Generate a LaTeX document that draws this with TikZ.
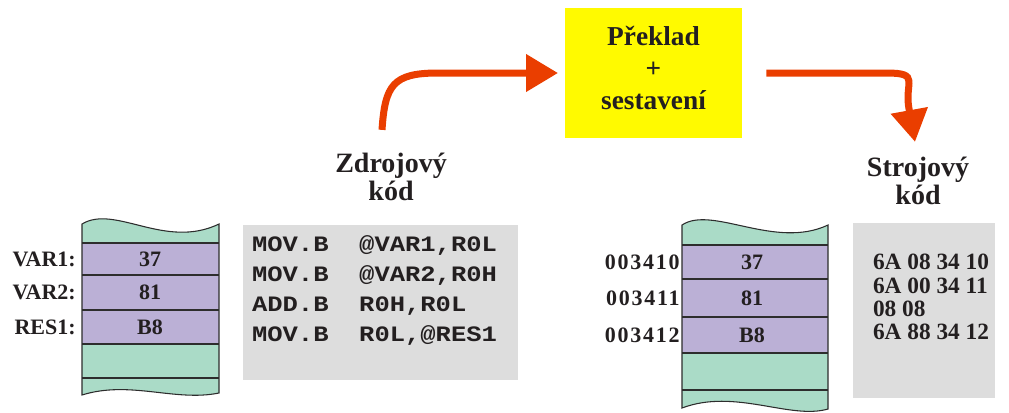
\documentclass[tikz,border=0pt]{standalone}
\usepackage{fontspec}
\setmainfont{Liberation Serif}
\newfontfamily\codefont{Liberation Mono}[FakeStretch=1.16]
\usetikzlibrary{arrows.meta}

\definecolor{mint}{RGB}{170,219,199}
\definecolor{lilac}{RGB}{187,176,214}
\definecolor{panelgray}{RGB}{221,221,221}
\definecolor{boxyellow}{RGB}{255,250,0}
\definecolor{flowred}{RGB}{234,62,0}
\definecolor{ink}{RGB}{35,31,32}
\definecolor{edge}{RGB}{45,45,45}

\begin{document}
\begin{tikzpicture}[x=0.75pt,y=-0.75pt,
  every node/.style={text=ink, inner sep=0pt},
  flow/.style={draw=flowred, line width=5.25pt, -{Triangle[length=24pt,width=27pt]}},
  rule/.style={draw=edge, line width=0.8pt},
  cell/.style={font=\fontsize{16.5}{18}\selectfont\bfseries},
  addr/.style={cell, anchor=east},
  caption/.style={font=\fontsize{21}{21.3}\selectfont\bfseries, anchor=base},
  stagebox/.style={fill=boxyellow, minimum width=132.75pt, minimum height=97.5pt,
    font=\fontsize{20.5}{24}\selectfont\bfseries}]

\useasboundingbox (0,0) rectangle (1009,412);

% ---- translation stage ----
\node[stagebox] (P) at (653.5,73)
  {\raisebox{21pt}[0pt][0pt]{\begin{tabular}[t]{@{}c@{}}Překlad\\+\\sestavení\end{tabular}}};

% ---- captions ----
\node[caption] (Zdr) at (391,172) {\begin{tabular}[t]{@{}c@{}}Zdrojový\\kód\end{tabular}};
\node[caption] (Str) at (918,176) {\begin{tabular}[t]{@{}c@{}}Strojový\\kód\end{tabular}};

% ---- flow arrows ----
\draw[flow] ([shift={(-9,-22)}]Zdr.north) .. controls +(3,-45) and +(-45,0) .. ([xshift=-95]P.west) -- ([xshift=-5]P.west);
\draw[flow] ([xshift=18]P.east) -- ([xshift=108]P.east)
  .. controls +(35,0) and +(-5,-27) .. ([shift={(-9,-47)}]Str.north)
  -- ([shift={(-3,-14)}]Str.north);

% ---- memory with symbolic names ----
\fill[mint] (82,224) .. controls (115,204) and (165,250) .. (219,224) -- (219,393)
  .. controls (175,402) and (130,380) .. (82,395) -- cycle;
\fill[lilac] (82,243) rectangle (219,344);
\foreach \yy in {243,275,310,344,378} \draw[rule] (82,\yy) -- (219,\yy);
\draw[rule] (82,224) .. controls (115,204) and (165,250) .. (219,224) -- (219,393)
  .. controls (175,402) and (130,380) .. (82,395) -- cycle;

\node[cell] (m1) at (150,259) {37};
\node[cell] (m2) at (150,292.5) {81};
\node[cell] (m3) at (150,327) {B8};
\node[addr] (a1) at (76,259) {VAR1:};
\node[addr] (a2) at (76,292.5) {VAR2:};
\node[addr] (a3) at (76,327) {RES1:};

% ---- assembly source ----
\node[fill=panelgray, minimum width=206.25pt, minimum height=116.25pt] (src) at (380.5,302.5) {};
\node[anchor=base west, font=\fontsize{16.5}{22.5}\selectfont\codefont\bfseries] (code)
  at ([shift={(9,27)}]src.north west)
  {\begin{tabular}[t]{@{}l@{}}MOV.B~~@VAR1,R0L\\MOV.B~~@VAR2,R0H\\ADD.B~~R0H,R0L\\MOV.B~~R0L,@RES1\end{tabular}};

% ---- memory with addresses ----
\fill[mint] (682,225) .. controls (712,205) and (775,250) .. (828,225) -- (828,409)
  .. controls (790,420) and (735,388) .. (682,408) -- cycle;
\fill[lilac] (682,245) rectangle (828,353);
\foreach \yy in {245,279,317,353,390} \draw[rule] (682,\yy) -- (828,\yy);
\draw[rule] (682,225) .. controls (712,205) and (775,250) .. (828,225) -- (828,409)
  .. controls (790,420) and (735,388) .. (682,408) -- cycle;

\node[cell] (n1) at (752,262) {37};
\node[cell] (n2) at (752,298) {81};
\node[cell] (n3) at (752,335) {B8};
\node[addr, font=\fontsize{16.5}{18}\selectfont\bfseries\addfontfeature{LetterSpace=8}] (b1) at (680,262) {003410};
\node[addr, font=\fontsize{16.5}{18}\selectfont\bfseries\addfontfeature{LetterSpace=8}] (b2) at (680,298) {003411};
\node[addr, font=\fontsize{16.5}{18}\selectfont\bfseries\addfontfeature{LetterSpace=8}] (b3) at (680,335) {003412};

% ---- machine code ----
\node[fill=panelgray, minimum width=106.5pt, minimum height=131.25pt] (obj) at (924,310.5) {};
\node[anchor=base west, font=\fontsize{17.5}{17.5}\selectfont\bfseries] (hex)
  at ([shift={(20,47)}]obj.north west)
  {\begin{tabular}[t]{@{}l@{}}6A 08 34 10\\6A 00 34 11\\08 08\\6A 88 34 12\end{tabular}};

\end{tikzpicture}
\end{document}
